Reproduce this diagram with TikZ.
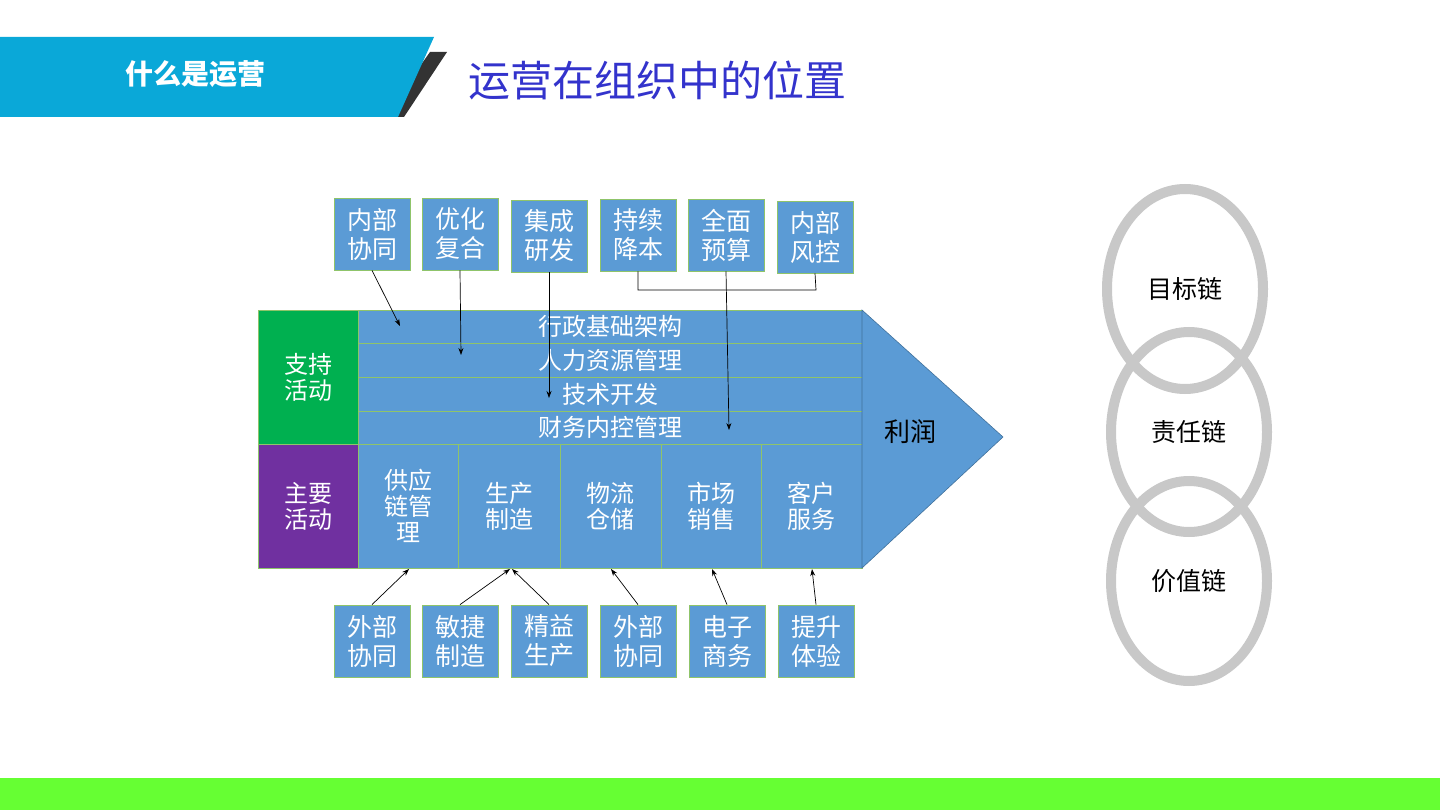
\documentclass[tikz,border=0pt]{standalone}
\usepackage{fontspec}
\setmainfont{Noto Sans CJK SC}
\usetikzlibrary{arrows.meta}
\definecolor{bbl}{HTML}{5B9BD5}
\definecolor{bgr}{HTML}{8FC46A}
\definecolor{ring}{HTML}{C8C8C8}
\tikzset{
 cell/.style={draw=bgr,fill=bbl,line width=0.8pt,text=white,font=\fontsize{24}{26}\selectfont,align=center,inner sep=0pt},
 tbox/.style={draw=bgr,fill=bbl,line width=0.8pt,text=white,font=\fontsize{25}{29}\selectfont,align=center,minimum width=76pt,minimum height=72pt,inner sep=0pt},
 arr/.style={-{Stealth[length=7pt,width=5pt]},line width=0.7pt},
 ringst/.style={draw=ring,line width=10pt},
 rtxt/.style={font=\fontsize{25}{28}\selectfont}
}
\begin{document}
\begin{tikzpicture}[x=1pt,y=-1pt]
\useasboundingbox (0,0) rectangle (1440,810);
% header
\fill[fill=black!80] (430,52) -- (447,52) -- (404,117) -- (384,117) -- cycle;
\fill[fill={rgb,255:red,10;green,168;blue,216}] (0,37) -- (434,37) -- (398,117) -- (0,117) -- cycle;
\node[text=white,font=\fontsize{28}{30}\selectfont\bfseries] (hd) at (195,74) {什么是运营};
\node[text={rgb,255:red,51;green,51;blue,204},font=\fontsize{42}{44}\selectfont] (ti) at (657,80) {运营在组织中的位置};
\fill[fill={rgb,255:red,102;green,255;blue,51}] (0,778) rectangle (1440,810);
% left labels
\node[cell,fill={rgb,255:red,0;green,176;blue,80},minimum width=100pt,minimum height=134pt] (sup) at (308,377) {支持\\活动};
\node[cell,fill={rgb,255:red,112;green,48;blue,160},minimum width=100pt,minimum height=124pt] (pri) at (308,506) {主要\\活动};
% support rows
\node[cell,minimum width=504pt,minimum height=33pt] (r1) at (610,326.5) {行政基础架构};
\node[cell,minimum width=504pt,minimum height=34pt] (r2) at (610,360) {人力资源管理};
\node[cell,minimum width=504pt,minimum height=34pt] (r3) at (610,394) {技术开发};
\node[cell,minimum width=504pt,minimum height=33pt] (r4) at (610,427.5) {财务内控管理};
% columns
\node[cell,minimum width=100pt,minimum height=124pt] (c1) at (408,506) {供应\\链管\\理};
\node[cell,minimum width=102pt,minimum height=124pt] (c2) at (509,506) {生产\\制造};
\node[cell,minimum width=101pt,minimum height=124pt] (c3) at (610.5,506) {物流\\仓储};
\node[cell,minimum width=100pt,minimum height=124pt] (c4) at (711,506) {市场\\销售};
\node[cell,minimum width=101pt,minimum height=124pt] (c5) at (811.5,506) {客户\\服务};
% profit arrow
\draw[fill=bbl,draw={rgb,255:red,65;green,113;blue,156},line width=0.6pt] (862,310) -- (1003,437) -- (862,568) -- cycle;
\node[font=\fontsize{26}{28}\selectfont] (pf) at (910,432) {利润};
% top boxes
\node[tbox] (t1) at (372,234) {内部\\协同};
\node[tbox] (t2) at (460,234) {优化\\复合};
\node[tbox] (t3) at (549,236) {集成\\研发};
\node[tbox] (t4) at (638,235) {持续\\降本};
\node[tbox] (t5) at (726,235) {全面\\预算};
\node[tbox] (t6) at (815,237) {内部\\风控};
% bottom boxes
\node[tbox] (b1) at (372,641) {外部\\协同};
\node[tbox] (b2) at (460,641) {敏捷\\制造};
\node[tbox] (b3) at (549,641) {精益\\生产};
\node[tbox] (b4) at (638,641) {外部\\协同};
\node[tbox] (b5) at (727,641) {电子\\商务};
\node[tbox] (b6) at (816,641) {提升\\体验};
% top arrows
\coordinate (e1) at (400,326);
\coordinate (e2) at (461,355);
\coordinate (e3) at (549,398);
\coordinate (e5) at (729,430);
\draw[arr] (t1.south) -- (e1);
\draw[arr] (t2.south) -- (e2);
\draw[arr] (t3.south) -- (e3);
\draw[line width=0.7pt] (t4.south) |- (816,290) -- (t6.south);
\draw[arr] (t5.south) -- (e5);
% bottom arrows
\coordinate (f1) at (409,569);
\coordinate (f2) at (510,569);
\coordinate (f3) at (512,569);
\coordinate (f4) at (611,569);
\coordinate (f5) at (712,569);
\coordinate (f6) at (812,569);
\draw[arr] (b1.north) -- (f1);
\draw[arr] (b2.north) -- (f2);
\draw[arr] (b3.north) -- (f3);
\draw[arr] (b4.north) -- (f4);
\draw[arr] (b5.north) -- (f5);
\draw[arr] (b6.north) -- (f6);
% rings
\draw[ringst] (1185,289) ellipse [x radius=78, y radius=100];
\draw[ringst] (1189,432) ellipse [x radius=78, y radius=100];
\draw[ringst] (1189,581) ellipse [x radius=78, y radius=100];
\node[rtxt] (g1) at (1185,289) {目标链};
\node[rtxt] (g2) at (1189,432) {责任链};
\node[rtxt] (g3) at (1189,581) {价值链};
\end{tikzpicture}
\end{document}
